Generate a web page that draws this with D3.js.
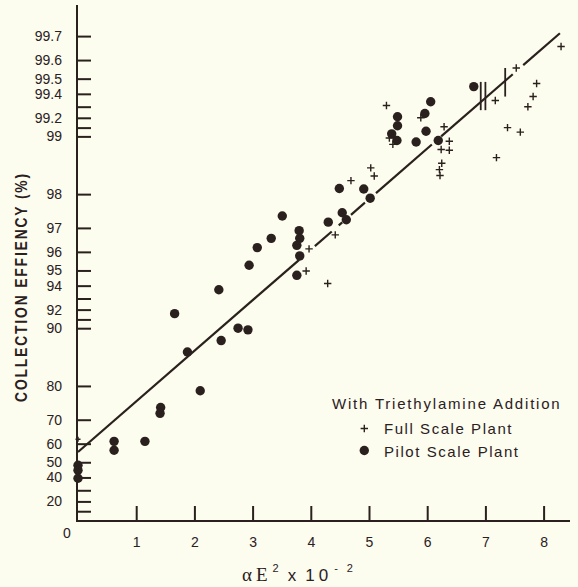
<!DOCTYPE html>
<html><head><meta charset="utf-8">
<script src="https://cdn.jsdelivr.net/npm/d3@7"></script>
<style>
html,body{margin:0;padding:0;background:#fcfcef;}
svg{display:block;}
text{font-family:"Liberation Sans",Arial,sans-serif;fill:#2a201d;}
</style></head>
<body>
<svg id="chart" width="578" height="587"></svg>
<script>
// ---- data ----
const yTickValues = [99.7,99.6,99.5,99.4,99.3,99.2,99.1,99,98,97,96,95,94,93,92,91,90,80,70,60,50,40,30,20,10];
const yTickLabels = ["99.7","99.6","99.5","99.4","","99.2","","99","98","97","96","95","94","","92","","90","80","70","60","50","40","","20",""];
const xTickValues = [1,2,3,4,5,6,7,8];

const pilotX = [0,0,0, 0.62,0.62, 1.15, 1.42,1.41, 1.66, 1.88, 2.10, 2.42, 2.46, 2.75, 2.92, 2.94, 3.08, 3.32, 3.51,
  3.80,3.81,3.76,3.81,3.76, 4.30, 4.49, 4.54,4.61, 4.91, 5.02, 5.39,5.48, 5.49,5.49, 5.81, 5.96, 5.98, 6.06, 6.19, 6.80];
const pilotE = [48.2,45.0,39.4, 61.1,56.7, 61.1, 74.1,72.2, 91.6, 86.7, 78.8, 93.7, 88.4, 90.0, 89.8, 95.3, 96.2, 96.6, 97.4,
  96.9,96.6,96.3,95.8,94.7, 97.2, 98.13, 97.5,97.28, 98.12, 97.9, 99.03,98.95, 99.21,99.12, 98.93, 99.24, 99.06, 99.34, 98.95, 99.45];

const fullX = [0, 3.92, 3.97, 4.29, 4.42, 4.69, 5.03, 5.09, 5.30, 5.35, 5.41, 5.89, 6.24, 6.38, 6.25, 6.21, 6.22, 6.29, 6.38,
  7.17, 7.19, 7.38, 7.53, 7.60, 7.73, 7.82, 7.88, 8.30];
const fullE = [62.1, 94.97, 96.14, 94.15, 96.74, 98.30, 98.54, 98.39, 99.31, 98.98, 98.90, 99.20, 98.83, 98.82, 98.62, 98.51, 98.40, 99.11, 98.94,
  99.35, 98.71, 99.10, 99.56, 99.05, 99.30, 99.38, 99.47, 99.66];

// fitted line end points and the drawn (broken) pieces along it
const fitX = [0, 8.28];
const fitE = [55.8, 99.71];
const fitPieces = [[0,3.80],[4.07,4.36],[4.48,4.54],[4.69,4.93],[5.12,6.08],[6.24,7.47],[7.65,8.28]];

// vertical range bars near x = 7
const barX = [6.92, 7.00, 7.34];
const barLo = [99.27, 99.27, 99.38];
const barHi = [99.48, 99.48, 99.56];

// ---- scales ----
const ink = "#2a201d";
const pt = E => -Math.log(1 - E/100);          // probability (penetration) transform
const x = d3.scaleLinear().domain([0,8]).range([78, 543.6]);
const yT = d3.scaleLinear().domain([0,6]).range([520, 520 - 6*83.3]);
const y = E => yT(pt(E));

const svg = d3.select("#chart");

// axes lines
svg.append("line").attr("x1",77).attr("x2",77).attr("y1",5).attr("y2",521)
  .attr("stroke",ink).attr("stroke-width",2);
svg.append("line").attr("x1",76).attr("x2",570).attr("y1",521).attr("y2",521)
  .attr("stroke",ink).attr("stroke-width",2);

// y axis
const yAxis = d3.axisLeft(yT).tickValues(yTickValues.map(pt))
  .tickFormat((d,i)=>yTickLabels[i]).tickSizeInner(-14).tickSizeOuter(0).tickPadding(15);
const gy = svg.append("g").attr("transform","translate(77,0)").call(yAxis);
gy.select(".domain").remove();
gy.selectAll(".tick line").attr("stroke",ink).attr("stroke-width",2);
gy.selectAll(".tick text").attr("font-size",14).attr("font-family","Liberation Sans, Arial, sans-serif").attr("fill",ink);

// x axis
const xAxis = d3.axisBottom(x).tickValues(xTickValues).tickFormat(d3.format("d"))
  .tickSizeInner(-15).tickSizeOuter(0).tickPadding(16);
const gx = svg.append("g").attr("transform","translate(0,521)").call(xAxis);
gx.select(".domain").remove();
gx.selectAll(".tick line").attr("stroke",ink).attr("stroke-width",2);
gx.selectAll(".tick text").attr("font-size",14).attr("font-family","Liberation Sans, Arial, sans-serif").attr("fill",ink);

svg.append("text").attr("x",67).attr("y",538).attr("text-anchor","middle").attr("font-size",14).text("0");

// fitted line pieces
const slope = (pt(fitE[1]) - pt(fitE[0])) / (fitX[1] - fitX[0]);
const fitT = xv => pt(fitE[0]) + slope * (xv - fitX[0]);
const lineGen = d3.line().x(d=>x(d)).y(d=>yT(fitT(d)));
svg.selectAll("path.fit").data(fitPieces).join("path").attr("class","fit")
  .attr("d", d=>lineGen(d)).attr("stroke",ink).attr("stroke-width",2.2).attr("fill","none");

// range bars
svg.selectAll("line.bar").data(barX).join("line").attr("class","bar")
  .attr("x1",d=>x(d)).attr("x2",d=>x(d))
  .attr("y1",(d,i)=>y(barLo[i])).attr("y2",(d,i)=>y(barHi[i]))
  .attr("stroke",ink).attr("stroke-width",1.8);

// pilot dots
svg.selectAll("circle.pilot").data(pilotX).join("circle").attr("class","pilot")
  .attr("cx",d=>x(d)).attr("cy",(d,i)=>y(pilotE[i])).attr("r",4.7).attr("fill",ink);

// full scale pluses
const plus = (cx,cy,s) => `M${cx-s},${cy}H${cx+s}M${cx},${cy-s}V${cy+s}`;
svg.selectAll("path.full").data(fullX).join("path").attr("class","full")
  .attr("d",(d,i)=>plus(x(d), y(fullE[i]), i===0?2.5:3.7))
  .attr("stroke",ink).attr("stroke-width",1.4).attr("fill","none");

// legend
svg.append("text").attr("x",332).attr("y",409).attr("font-size",15).attr("letter-spacing",1.8)
  .text("With Triethylamine Addition");
svg.append("path").attr("d",plus(364.3,428.5,3.7)).attr("stroke",ink).attr("stroke-width",1.4);
svg.append("text").attr("x",384).attr("y",434).attr("font-size",15).attr("letter-spacing",1.55).text("Full Scale Plant");
svg.append("circle").attr("cx",364.3).attr("cy",450.5).attr("r",4.7).attr("fill",ink);
svg.append("text").attr("x",384).attr("y",457).attr("font-size",15).attr("letter-spacing",1.55).text("Pilot Scale Plant");

// y title (condensed)
svg.append("text").attr("transform","translate(26.5,287) rotate(-90) scale(0.84,1)").attr("text-anchor","middle")
  .attr("font-size",16.5).attr("font-weight","bold").attr("letter-spacing",2.2)
  .text("COLLECTION EFFIENCY (%)");

// x title
const xt = svg.append("text").attr("x",242).attr("y",581).attr("font-size",17);
xt.append("tspan").attr("font-family","Liberation Serif, Times New Roman, serif").attr("font-size",19).text("α");
xt.append("tspan").attr("font-family","Liberation Serif, Times New Roman, serif").attr("font-size",19).attr("dx",4).text("E");
xt.append("tspan").attr("font-size",11).attr("dx",5).attr("dy",-9).text("2");
xt.append("tspan").attr("font-size",17).attr("dx",9).attr("dy",9).text("x");
xt.append("tspan").attr("font-size",17).attr("dx",9).attr("letter-spacing",4).text("10");
xt.append("tspan").attr("font-size",11).attr("dx",2).attr("dy",-9).attr("letter-spacing",3).text("- 2");
</script>
</body></html>
